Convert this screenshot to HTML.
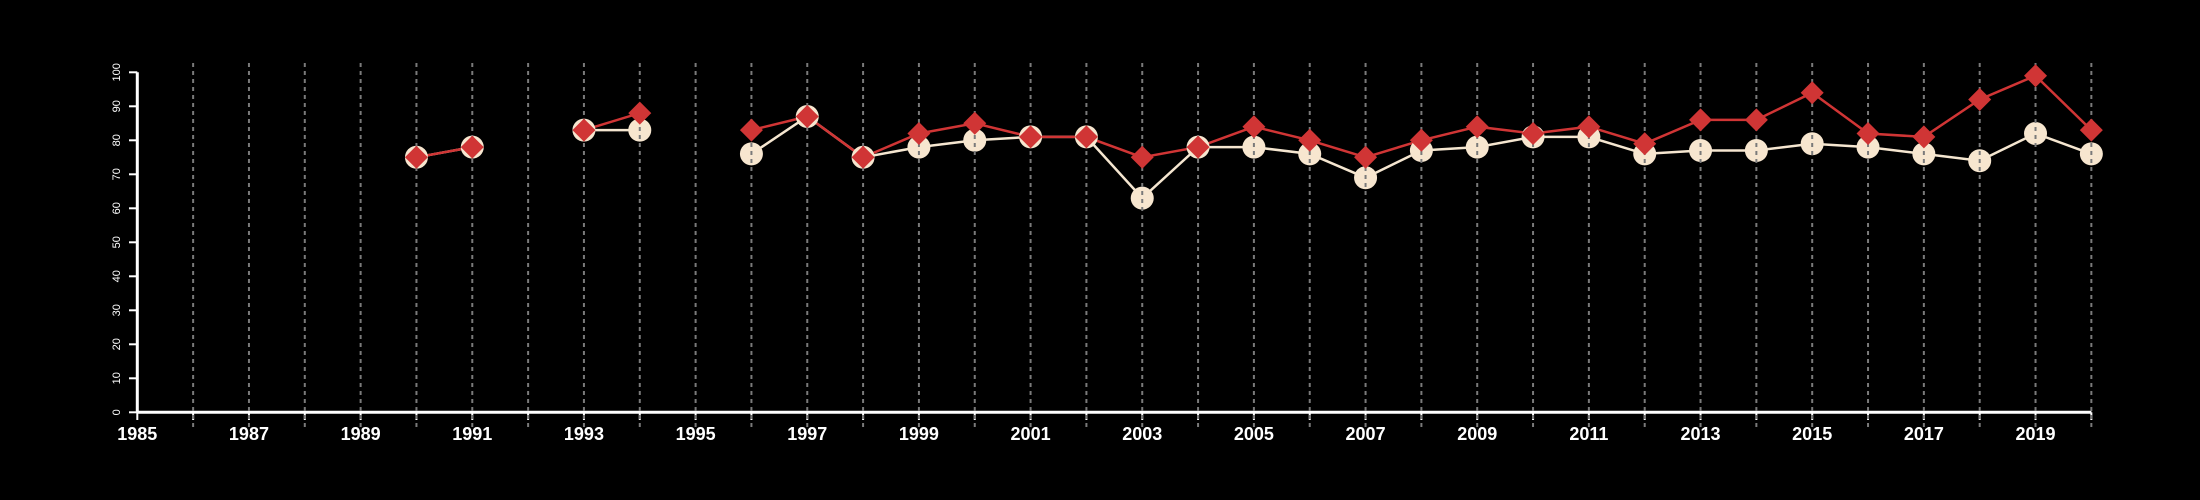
<!DOCTYPE html>
<html><head><meta charset="utf-8"><style>
html,body{margin:0;padding:0;background:#000;}
svg{display:block;font-family:"Liberation Sans",sans-serif;}
</style></head><body>
<svg id="chart" width="2200" height="500" viewBox="0 0 2200 500">
<rect width="2200" height="500" fill="#000"/>
<g id="axes"></g><g id="series"></g><g id="circles"></g><g id="grid"></g><g id="diamonds"></g>
</svg>
<script>
const years = [1990,1991,1992,1993,1994,1995,1996,1997,1998,1999,2000,2001,2002,2003,2004,2005,2006,2007,2008,2009,2010,2011,2012,2013,2014,2015,2016,2017,2018,2019,2020];
const whiteSeries = [75,78,null,83,83,null,76,87,75,78,80,81,81,63,78,78,76,69,77,78,81,81,76,77,77,79,78,76,74,82,76];
const redSeries = [75,78,null,83,88,null,83,87,75,82,85,81,81,75,78,84,80,75,80,84,82,84,79,86,86,94,82,81,92,99,83];
const yTicks = [0,10,20,30,40,50,60,70,80,90,100];
const xTickLabels = [1985,1987,1989,1991,1993,1995,1997,1999,2001,2003,2005,2007,2009,2011,2013,2015,2017,2019];
const NS="http://www.w3.org/2000/svg";
const X=y=>137.3+(y-1985)*55.83;
const Y=v=>412.3-v*3.4;
function mk(tag,attrs,parent){const e=document.createElementNS(NS,tag);for(const k in attrs)e.setAttribute(k,attrs[k]);parent.appendChild(e);return e;}
const axes=document.getElementById('axes'),series=document.getElementById('series'),grid=document.getElementById('grid');
const circles=document.getElementById('circles'),diamonds=document.getElementById('diamonds');
let ax=mk('line',{x1:X(1985),x2:X(2020),y1:412.3,y2:412.3,stroke:'#fff','stroke-width':3},axes);


let ay=mk('line',{x1:137.3,x2:137.3,y1:Y(0),y2:Y(100),stroke:'#fff','stroke-width':3},axes);


yTicks.forEach(t=>{
 let l=mk('line',{x1:129,x2:137.3,y1:Y(t),y2:Y(t),stroke:'#fff','stroke-width':2},axes);
 
 
 let tx=mk('text',{x:0,y:0,fill:'#fff','font-size':11,'text-anchor':'middle',transform:`translate(120,${Y(t)}) rotate(-90)`},axes);
 tx.textContent=t;
 
 
});
for(let yr=1985;yr<=2020;yr++){
 let l=mk('line',{x1:X(yr),x2:X(yr),y1:412.3,y2:420,stroke:'#fff','stroke-width':2},axes);
 
 
 if(yr>1985){
  let g=mk('line',{x1:X(yr),x2:X(yr),y1:63,y2:428,stroke:'#7a7a7a','stroke-width':2,'stroke-dasharray':'4,4'},grid);
  
  
 }
}
xTickLabels.forEach(yr=>{
 let tx=mk('text',{x:X(yr),y:440,fill:'#fff','font-size':18,'font-weight':'bold','text-anchor':'middle'},axes);
 tx.textContent=yr;
 
 
});
function drawLine(vals,color,name){
 let segs=[],cur=[];
 vals.forEach((v,i)=>{if(v==null){if(cur.length)segs.push(cur);cur=[];}else cur.push([X(years[i]),Y(v)]);});
 if(cur.length)segs.push(cur);
 segs.forEach(s=>{
  let p=mk('polyline',{points:s.map(q=>q.join(',')).join(' '),fill:'none',stroke:color,'stroke-width':2.5},series);
  
  
 });
}
drawLine(whiteSeries,'#f5e6d0','white-series');
drawLine(redSeries,'#d03535','red-series');
whiteSeries.forEach((v,i)=>{if(v==null)return;
 let c=mk('circle',{cx:X(years[i]),cy:Y(v),r:11.5,fill:'#f7e6cf'},circles);
 
 
});
redSeries.forEach((v,i)=>{if(v==null)return;
 const x=X(years[i]),y=Y(v),s=11.5;
 let d=mk('polygon',{points:`${x},${y-s} ${x+s},${y} ${x},${y+s} ${x-s},${y}`,fill:'#d03535'},diamonds);
 
 
});
</script>
</body></html>
